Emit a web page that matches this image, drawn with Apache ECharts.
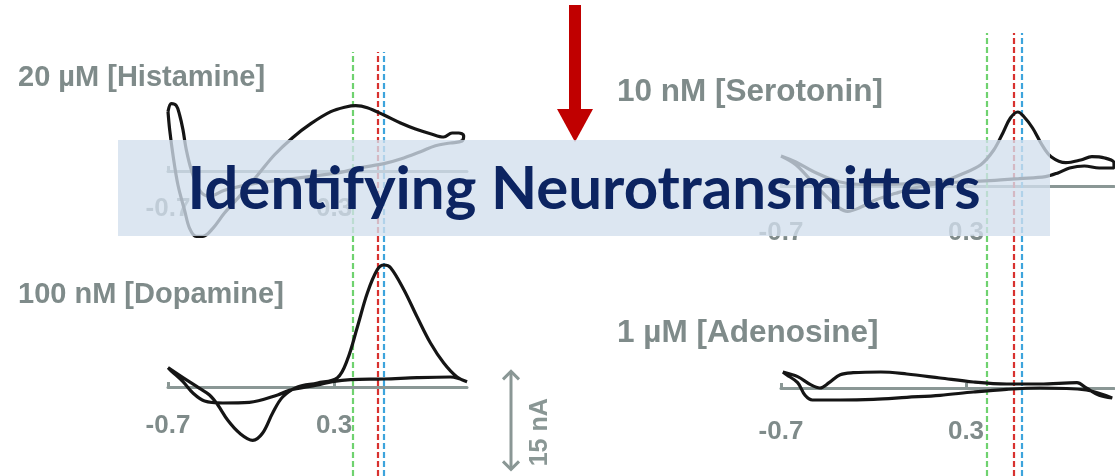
<!DOCTYPE html>
<html><head><meta charset="utf-8">
<script src="https://cdn.jsdelivr.net/npm/echarts@6/dist/echarts.min.js"></script>
<style>html,body{margin:0;padding:0;background:#fff;}#c{width:1115px;height:476px;}</style>
</head><body><div id="c"></div>
<script>
// ---------- data ----------
const panelLabels = ['20 µM [Histamine]', '100 nM [Dopamine]', '10 nM [Serotonin]', '1 µM [Adenosine]'];
const bannerTitle = 'Identifying Neurotransmitters';
const scaleBarLabel = '15 nA';
const scaleBarRange = [2.5, -12.5];           // nA, 15 nA bar
const xTicks = [-0.7, 0.3];                    // V
const peakPotentials = [0.41, 0.56, 0.60];     // V (green, red, blue)

// cyclic voltammograms: [potential V, current nA]
const histamine = [[-0.70,8.9],[-0.69,6.2],[-0.67,2.4],[-0.64,-2.1],[-0.60,-5.9],[-0.57,-8.6],[-0.53,-9.8],[-0.49,-9.8],[-0.43,-8.6],[-0.36,-6.3],[-0.27,-3.8],[-0.16,-0.6],[-0.06,2.4],[0.05,5.0],[0.16,7.1],[0.28,8.9],[0.37,9.6],[0.43,9.8],[0.50,9.5],[0.60,8.4],[0.70,7.2],[0.79,6.3],[0.88,5.6],[0.96,5.1],[1.01,5.7],[1.05,5.7],[1.08,5.3],[1.07,4.5],[1.00,4.2],[0.91,3.8],[0.82,2.9],[0.70,1.8],[0.60,1.1],[0.46,0.5],[0.34,-0.2],[0.16,-0.8],[-0.03,-1.4],[-0.21,-2.0],[-0.36,-2.9],[-0.45,-3.8],[-0.51,-2.9],[-0.56,0.2],[-0.59,3.2],[-0.61,6.2],[-0.63,8.4],[-0.65,9.8],[-0.68,10.1],[-0.70,8.9]];
const dopamine = [[-0.70,2.9],[-0.61,1.4],[-0.51,-0.2],[-0.45,-1.2],[-0.40,-2.7],[-0.34,-5.0],[-0.27,-6.9],[-0.19,-8.0],[-0.13,-6.9],[-0.07,-3.9],[-0.01,-1.5],[0.08,0],[0.20,0.6],[0.32,1.4],[0.38,4.1],[0.44,9.0],[0.50,14.1],[0.56,17.6],[0.60,18.3],[0.64,17.9],[0.72,14.6],[0.80,10.5],[0.88,6.6],[0.96,3.6],[1.04,1.5],[1.10,0.8],[1.00,1.5],[0.80,1.4],[0.60,1.2],[0.40,1.1],[0.29,0.8],[0.20,0.3],[0.03,-0.5],[-0.04,-1.2],[-0.21,-2.3],[-0.37,-2.4],[-0.48,-2.1],[-0.55,-0.9],[-0.61,0.8],[-0.68,2.4],[-0.70,2.9]];
const serotonin = [[-0.70,4.5],[-0.62,3.2],[-0.54,0.9],[-0.46,-1.4],[-0.39,-3.2],[-0.34,-3.8],[-0.27,-3.2],[-0.19,-2.1],[-0.08,-1.1],[0.02,-0.3],[0.16,0.5],[0.27,1.7],[0.38,3.2],[0.45,5.4],[0.50,8.0],[0.54,10.2],[0.58,11.1],[0.61,10.5],[0.66,8.7],[0.71,6.2],[0.76,4.4],[0.84,3.5],[0.92,3.9],[0.98,4.4],[1.05,4.2],[1.10,3.5],[1.10,2.7],[1.02,2.7],[0.94,3.0],[0.86,2.7],[0.80,2.0],[0.73,1.4],[0.59,1.1],[0.43,0.8],[0.27,0.6],[0.11,0.5],[-0.06,0.3],[-0.22,0.2],[-0.38,0.6],[-0.52,2.1],[-0.62,3.6],[-0.70,4.5]];
const adenosine = [[-0.69,2.4],[-0.61,1.7],[-0.54,0.5],[-0.49,0],[-0.44,0.8],[-0.38,2.0],[-0.31,2.3],[-0.16,2.4],[-0.02,2.1],[0.16,1.5],[0.34,0.9],[0.52,0.6],[0.70,0.6],[0.90,0.8],[0.95,0],[1.02,-1.1],[1.09,-1.5],[0.95,-0.3],[0.70,0],[0.52,-0.2],[0.34,-0.6],[0.16,-1.1],[-0.02,-1.4],[-0.20,-1.7],[-0.38,-1.8],[-0.53,-1.8],[-0.57,-1.1],[-0.61,0.8],[-0.67,2.0],[-0.69,2.4]];

// ---------- layout / style ----------
const GRAY = '#8a9795';
const LABEL_GRAY = '#7f8b8a';
const peakColors = ['#6fd26f', '#d8312f', '#3da4dc'];
const panels = [histamine, dopamine, serotonin, adenosine];
const baselines = [171, 387, 186, 388];   // pixel row of the 0 nA line for each panel
const cols = [{left:168, width:299}, {left:168, width:299}, {left:781, width:333}, {left:781, width:333}];
const NA_PER_PX = 0.15;
const yRanges = [[-12,18],[-12,20],[-12,18],[-12,18]];
const labelMargins = [25, 26, 34, 31];

const grids = [], xAxes = [], yAxes = [], series = [];
// data grids 0..3
panels.forEach((d,i) => {
  const [lo, hi] = yRanges[i];
  const top = baselines[i] - hi / NA_PER_PX;
  grids.push({left:cols[i].left, width:cols[i].width, top:top, height:(hi - lo) / NA_PER_PX});
  xAxes.push({type:'value', gridIndex:i, min:-0.7, max:1.1, show:false});
  yAxes.push({type:'value', gridIndex:i, min:lo, max:hi, show:false});
  series.push({type:'line', xAxisIndex:i, yAxisIndex:i, data:d, smooth:0.35, showSymbol:false, clip:false,
    lineStyle:{color:'#151515', width:3.2}, z:5, silent:true});
});
// axis grids 4..7 (bottom edge sits on the 0 nA line)
panels.forEach((d,i) => {
  const gi = grids.length;
  grids.push({left:cols[i].left, width:cols[i].width, top:baselines[i] - 20, height:20});
  xAxes.push({type:'value', gridIndex:gi, min:-0.7, max:1.1, position:'bottom',
    axisLine:{show:true, onZero:false, lineStyle:{color:GRAY, width:3}},
    axisTick:{show:true, inside:true, length:5, customValues:xTicks, lineStyle:{color:GRAY, width:3}},
    axisLabel:{show:true, customValues:xTicks, margin:labelMargins[i], color:LABEL_GRAY, fontSize:26, fontWeight:'bold', fontFamily:'Liberation Sans',
      formatter: v => xTicks.some(t => Math.abs(v - t) < 1e-6) ? String(v) : ''},
    splitLine:{show:false}});
  yAxes.push({type:'value', gridIndex:gi, min:0, max:1, show:false});
  series.push({type:'line', xAxisIndex:gi, yAxisIndex:gi, data:[], silent:true});
});
// full-height grids 8,9 for the peak-potential guide lines
[[168,299,52,424],[781,333,33,443]].forEach(([l,w,t,h]) => {
  const gi = grids.length;
  grids.push({left:l, width:w, top:t, height:h});
  xAxes.push({type:'value', gridIndex:gi, min:-0.7, max:1.1, show:false});
  yAxes.push({type:'value', gridIndex:gi, min:0, max:1, show:false});
  series.push({type:'line', xAxisIndex:gi, yAxisIndex:gi, data:[], silent:true, z:3,
    markLine:{symbol:['none','none'], silent:true, label:{show:false},
      data: peakPotentials.map((p,k) => ({xAxis:p, lineStyle:{color:peakColors[k], type:[6,3], width:2.2}}))}});
});

const chart = echarts.init(document.getElementById('c'), null, {renderer:'canvas'});
chart.setOption({
  animation:false, backgroundColor:'#ffffff',
  grid: grids.map(g => Object.assign({containLabel:false, outerBoundsMode:'none'}, g)),
  xAxis:xAxes, yAxis:yAxes, series
});

const labelPos = [[18,78,29],[18,295,29],[617,92,31.5],[617,333,31.5]];
const p1 = chart.convertToPixel({gridIndex:1}, [0, scaleBarRange[0]]);
const p2 = chart.convertToPixel({gridIndex:1}, [0, scaleBarRange[1]]);
const bx = 511, yT = p1[1], yB = p2[1];

const graphic = [];
panelLabels.forEach((t,i) => graphic.push({type:'text', x:labelPos[i][0], y:labelPos[i][1], z:50,
  style:{text:t, fill:LABEL_GRAY, fontSize:labelPos[i][2], fontWeight:'bold', fontFamily:'Liberation Sans', verticalAlign:'middle'}}));
// scale bar
graphic.push({type:'line', z:50, shape:{x1:bx, y1:yT+1, x2:bx, y2:yB-1}, style:{stroke:GRAY, lineWidth:3}});
graphic.push({type:'polyline', z:50, shape:{points:[[bx-8,yT+9],[bx,yT+1],[bx+8,yT+9]]}, style:{stroke:GRAY, lineWidth:3, fill:null}});
graphic.push({type:'polyline', z:50, shape:{points:[[bx-8,yB-9],[bx,yB-1],[bx+8,yB-9]]}, style:{stroke:GRAY, lineWidth:3, fill:null}});
graphic.push({type:'text', z:50, x:540, y:(yT+yB)/2+12, rotation:Math.PI/2,
  style:{text:scaleBarLabel, fill:GRAY, fontSize:25, fontWeight:'bold', fontFamily:'Liberation Sans', align:'center', verticalAlign:'middle'}});
// red arrow
graphic.push({type:'rect', z:60, shape:{x:569, y:5, width:12, height:106}, style:{fill:'#c00000'}});
graphic.push({type:'polygon', z:60, shape:{points:[[557,109],[593,109],[575,142]]}, style:{fill:'#c00000'}});
// banner
graphic.push({type:'rect', z:100, shape:{x:118, y:140, width:932, height:96}, style:{fill:'rgba(210,223,237,0.78)'}});
graphic.push({type:'text', z:101, x:584, y:190,
  style:{text:bannerTitle, fill:'#0c2461', fontSize:60, fontWeight:'bold', fontFamily:'Lato', align:'center', verticalAlign:'middle'}});
chart.setOption({graphic:{elements:graphic}});
</script></body></html>
